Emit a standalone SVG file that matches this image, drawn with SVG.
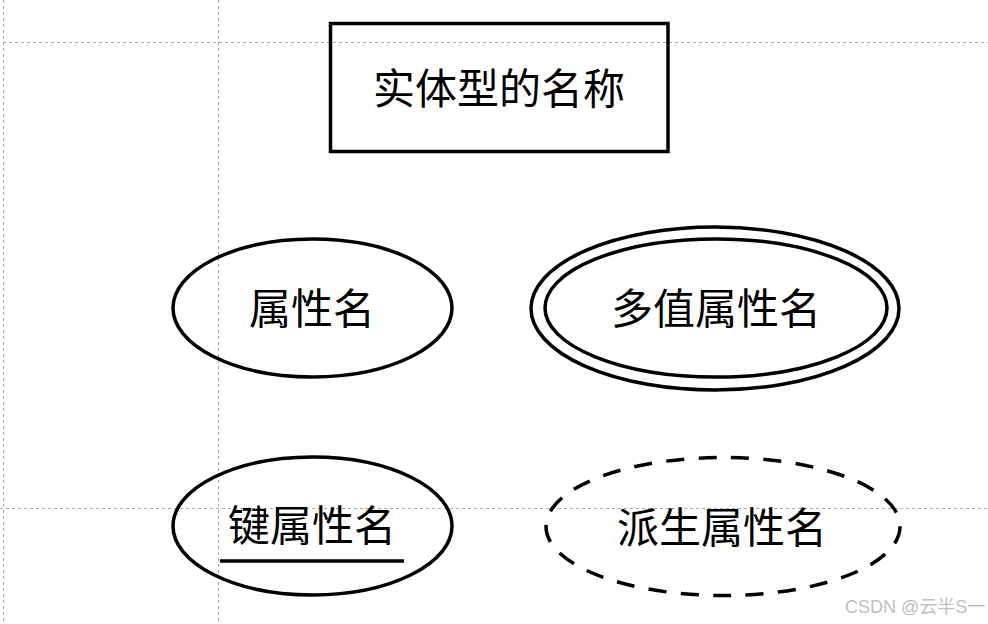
<svg xmlns="http://www.w3.org/2000/svg" width="988" height="624" viewBox="0 0 988 624">
<style>
.grid{stroke:#aaaaaa;stroke-width:1;stroke-dasharray:3,3;fill:none}
.shape{fill:none;stroke:#000;stroke-width:3.5}
.lbl{font-family:"Noto Sans CJK SC","Microsoft YaHei",sans-serif;font-size:42px;fill:#000;text-anchor:middle}
.wm{font-family:"Liberation Sans","Noto Sans CJK SC",sans-serif;font-size:18px;fill:#c0c0c0}
</style>
<rect width="988" height="624" fill="#fff"/>
<g id="grid">
<line class="grid" x1="3.5" y1="0" x2="3.5" y2="624"/>
<line class="grid" x1="218.5" y1="0" x2="218.5" y2="624"/>
<line class="grid" x1="3" y1="42.5" x2="988" y2="42.5"/>
<line class="grid" x1="0" y1="508.5" x2="988" y2="508.5"/>
</g>
<g id="connectors"></g>
<g id="entity">
<rect class="shape" x="330.5" y="23.5" width="337.5" height="128"/>
<text class="lbl" x="499" y="104">实体型的名称</text>
</g>
<g id="attr">
<ellipse class="shape" cx="312.5" cy="308" rx="139.5" ry="69"/>
<text class="lbl" x="312" y="324">属性名</text>
</g>
<g id="multi">
<ellipse class="shape" cx="715" cy="308.5" rx="184" ry="81.5"/>
<ellipse class="shape" cx="716" cy="308" rx="171" ry="69"/>
<text class="lbl" x="716" y="324">多值属性名</text>
</g>
<g id="key">
<ellipse class="shape" cx="312.5" cy="526" rx="139.5" ry="69"/>
<text class="lbl" x="312" y="541">键属性名</text>
<line x1="220" y1="561" x2="404" y2="561" stroke="#000" stroke-width="3.5"/>
</g>
<g id="derived">
<ellipse class="shape" cx="723" cy="526.5" rx="177" ry="69" stroke-width="5" stroke-dasharray="18,14.4"/>
<text class="lbl" x="722" y="543">派生属性名</text>
</g>
<text class="wm" x="845" y="613">CSDN @云半S一</text>
</svg>
